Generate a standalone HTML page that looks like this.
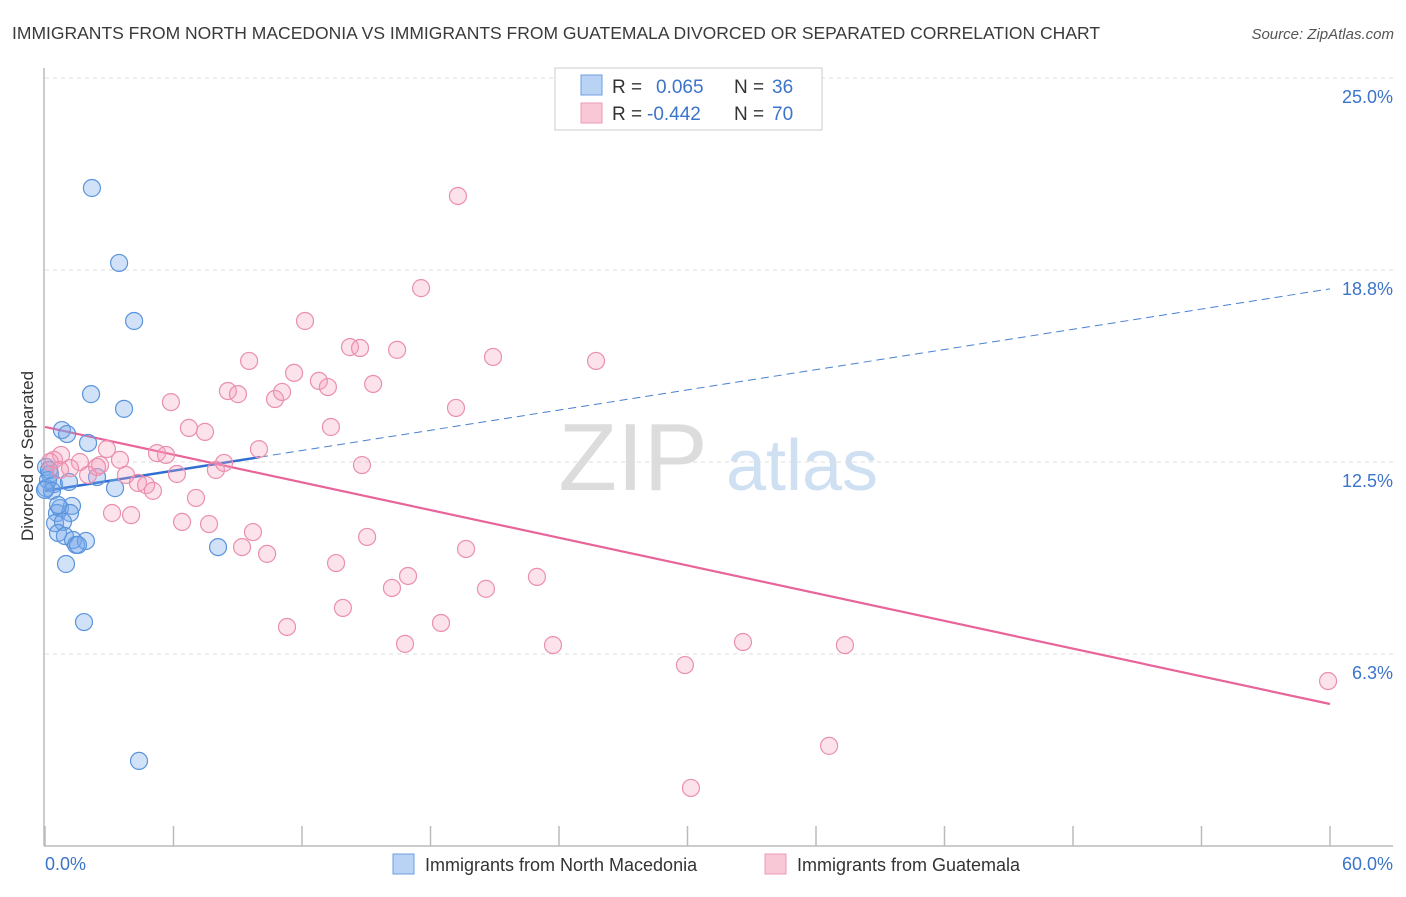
<!DOCTYPE html>
<html><head><meta charset="utf-8"><style>
body{margin:0;background:#fff;font-family:"Liberation Sans",sans-serif}
svg text{font-family:"Liberation Sans",sans-serif}
</style></head><body>
<svg id="chart" width="1406" height="892" viewBox="0 0 1406 892" xmlns="http://www.w3.org/2000/svg">
<text x="12" y="39" font-size="17.5" fill="#3a3a3a">IMMIGRANTS FROM NORTH MACEDONIA VS IMMIGRANTS FROM GUATEMALA DIVORCED OR SEPARATED CORRELATION CHART</text>
<text x="1394" y="39" font-size="15" fill="#555" text-anchor="end" font-style="italic">Source: ZipAtlas.com</text>
<g>
<text x="633" y="490" font-size="96" fill="#dcdcdc" text-anchor="middle" font-family="Liberation Serif">ZIP</text>
<text x="802" y="490" font-size="72" fill="#cfe0f3" text-anchor="middle">atlas</text>
</g>
<g id="grid"></g><g id="axes"></g><g id="lines"></g><g id="pts"></g>
<text transform="translate(33,456) rotate(-90)" font-size="17" fill="#333" text-anchor="middle">Divorced or Separated</text>
<g>
<rect x="555" y="68" width="267" height="62" fill="#fff" stroke="#ccc"/>
<rect x="581" y="75" width="21" height="20" fill="#b9d3f5" stroke="#6c9fe0"/>
<rect x="581" y="103" width="21" height="20" fill="#f9c8d6" stroke="#ec9ab4"/>
<text x="612" y="93" font-size="19" fill="#333">R =</text><text x="656" y="93" font-size="19" fill="#3b74c9">0.065</text>
<text x="734" y="93" font-size="19" fill="#333">N =</text><text x="772" y="93" font-size="19" fill="#3b74c9">36</text>
<text x="612" y="120" font-size="19" fill="#333">R =</text><text x="647" y="120" font-size="19" fill="#3b74c9">-0.442</text>
<text x="734" y="120" font-size="19" fill="#333">N =</text><text x="772" y="120" font-size="19" fill="#3b74c9">70</text>
</g>
<g>
<rect x="393" y="854" width="21" height="20" fill="#b9d3f5" stroke="#6c9fe0"/>
<text x="425" y="871" font-size="18" fill="#333">Immigrants from North Macedonia</text>
<rect x="765" y="854" width="21" height="20" fill="#f9c8d6" stroke="#ec9ab4"/>
<text x="797" y="871" font-size="18" fill="#333">Immigrants from Guatemala</text>
</g>
</svg>
<script>
const blueX=[2.19,3.46,4.16,2.15,3.69,0.79,1.03,2.01,0.05,0.23,0.05,0.42,1.12,2.43,3.27,0.70,1.26,0.56,1.17,0.47,0.84,0.61,0.93,1.31,1.45,1.91,0.98,1.82,4.39,8.08,0.14,0.33,0.61,0.19,0.0,1.54];
const blueY=[21.42,18.98,17.09,14.71,14.23,13.54,13.41,13.12,12.34,12.11,11.65,11.78,11.85,12.01,11.65,11.00,11.07,10.84,10.84,10.51,10.55,10.19,10.09,9.96,9.80,9.93,9.18,7.29,2.77,9.73,11.91,11.56,11.10,12.24,11.59,9.80];
const pinkX=[19.28,17.56,12.14,14.24,14.71,16.44,20.92,25.73,9.53,11.63,12.79,13.21,15.32,8.54,9.01,10.74,11.07,5.88,19.19,6.72,7.47,13.35,2.89,9.99,3.50,5.23,5.65,0.42,0.75,1.63,2.57,1.17,6.16,7.98,8.36,14.80,3.78,4.34,4.72,5.04,7.05,3.13,4.02,6.40,7.66,9.71,9.20,10.37,15.04,19.66,13.59,16.95,16.20,20.59,22.97,13.91,11.30,18.49,16.81,23.72,32.59,37.35,29.88,59.91,36.61,30.16,0.23,2.01,2.43,0.70];
const pinkY=[21.16,18.16,17.09,16.24,16.21,16.15,15.92,15.79,15.79,15.40,15.14,14.94,15.04,14.81,14.71,14.55,14.78,14.45,14.26,13.61,13.48,13.64,12.92,12.92,12.57,12.79,12.73,12.57,12.73,12.50,12.40,12.30,12.11,12.24,12.47,12.40,12.08,11.82,11.75,11.56,11.33,10.84,10.77,10.55,10.48,10.22,9.73,9.51,10.06,9.67,9.21,8.79,8.40,8.37,8.76,7.75,7.13,7.26,6.58,6.54,6.64,6.54,5.89,5.37,3.26,1.89,12.50,12.08,12.34,12.24];
const yTicks=[6.25,12.5,18.75,25];
const yTickLabels=["6.3%","12.5%","18.8%","25.0%"];
const xTicks=[0,6,12,18,24,30,36,42,48,54,60];
const blueFit=[11.56,0.1096]; // intercept, slope
const blueFitEnd=10.04;
const pinkFit=[13.64,-0.1503];

const NS="http://www.w3.org/2000/svg";
const X=v=>45+v/60*1285;
const Y=v=>846-v/25*768;
function mk(tag,attrs,parent){const e=document.createElementNS(NS,tag);for(const k in attrs)e.setAttribute(k,attrs[k]);document.getElementById(parent).appendChild(e);return e;}

yTicks.forEach((t,i)=>{
  const g=mk('line',{x1:45,x2:1393,y1:Y(t),y2:Y(t),stroke:'#ddd','stroke-dasharray':'4,4'},'grid');
  
  
  const l=mk('text',{x:1393,y:Y(t)+25,'font-size':18,fill:'#3b74c9','text-anchor':'end'},'grid');
  l.textContent=yTickLabels[i];
  
  
});
const ax=mk('line',{x1:44,x2:44,y1:68,y2:846,stroke:'#bbb','stroke-width':1.5},'axes');


const bx=mk('line',{x1:44,x2:1393,y1:846,y2:846,stroke:'#bbb','stroke-width':1.5},'axes');


xTicks.forEach(t=>{
  const k=mk('line',{x1:X(t),x2:X(t),y1:826,y2:846,stroke:'#bbb','stroke-width':1.5},'axes');
  
  
});
const x0=mk('text',{x:45,y:870,'font-size':18,fill:'#3b74c9'},'axes');x0.textContent="0.0%";


const x1=mk('text',{x:1393,y:870,'font-size':18,fill:'#3b74c9','text-anchor':'end'},'axes');x1.textContent="60.0%";



blueX.forEach((v,i)=>{
  const c=mk('circle',{cx:X(v),cy:Y(blueY[i]),r:8.5,fill:'rgba(120,170,235,0.35)',stroke:'#5a94dc','stroke-width':1.2},'pts');
  
  
});
pinkX.forEach((v,i)=>{
  const c=mk('circle',{cx:X(v),cy:Y(pinkY[i]),r:8.5,fill:'rgba(245,160,190,0.3)',stroke:'#ea8fae','stroke-width':1.2},'pts');
  
  
});
const bf=x=>blueFit[0]+blueFit[1]*x, pf=x=>pinkFit[0]+pinkFit[1]*x;
const l1=mk('line',{x1:X(0),y1:Y(bf(0)),x2:X(blueFitEnd),y2:Y(bf(blueFitEnd)),stroke:'#2f6fd1','stroke-width':2.5},'lines');


const l2=mk('line',{x1:X(blueFitEnd),y1:Y(bf(blueFitEnd)),x2:X(60),y2:Y(bf(60)),stroke:'#4a80d0','stroke-width':1,'stroke-dasharray':'8,5'},'lines');


const l3=mk('line',{x1:X(0),y1:Y(pf(0)),x2:X(60),y2:Y(pf(60)),stroke:'#e8649a','stroke-width':2.2},'lines');


</script>
</body></html>
